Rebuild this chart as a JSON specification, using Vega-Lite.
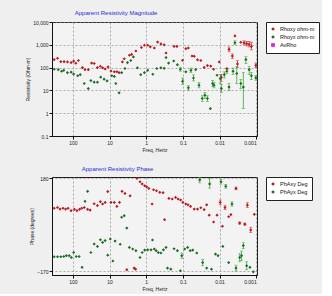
{
"$schema": "https://vega.github.io/schema/vega-lite/v6.json",
"background": "#efefef",
"padding": {"left": 25, "top": 9, "right": 2, "bottom": 2},
"spacing": 12,
"config": {
  "font": "Liberation Sans",
  "view": {"stroke": "#222", "strokeWidth": 1, "fill": "#f3f3f3"},
  "axis": {"labelFontSize": 5, "titleFontSize": 5, "titleFontWeight": "normal", "labelColor": "#222", "titleColor": "#222", "domainColor": "#111", "tickColor": "#111", "tickSize": 3, "gridColor": "#8a8a8a", "gridDash": [2, 2], "gridWidth": 0.7, "labelPadding": 1, "titlePadding": 2},
  "title": {"fontSize": 6, "fontWeight": "normal", "color": "#2b2bd8", "anchor": "start"},
  "legend": {"orient": "right", "offset": 9, "fillColor": "white", "strokeColor": "#222", "padding": 4, "labelFontSize": 5.5, "labelColor": "#111", "symbolSize": 14, "rowPadding": 1, "title": null, "labelLimit": 60}
},
"resolve": {"scale": {"color": "independent", "shape": "independent"}},
"vconcat": [
{
  "width": 205, "height": 114,
  "title": {"text": "Apparent Resistivity Magnitude", "dx": 49, "offset": 4},
  "data": {"values": [
    {"s":"Rhoxy ohm-m","f":324,"v":224},{"s":"Rhoxy ohm-m","f":263,"v":257},{"s":"Rhoxy ohm-m","f":214,"v":182},{"s":"Rhoxy ohm-m","f":174,"v":182},{"s":"Rhoxy ohm-m","f":141,"v":178},{"s":"Rhoxy ohm-m","f":112,"v":166},{"s":"Rhoxy ohm-m","f":95.5,"v":191},{"s":"Rhoxy ohm-m","f":83.2,"v":155},{"s":"Rhoxy ohm-m","f":70.8,"v":204},{"s":"Rhoxy ohm-m","f":55,"v":100},{"s":"Rhoxy ohm-m","f":46.8,"v":81},{"s":"Rhoxy ohm-m","f":38,"v":81},{"s":"Rhoxy ohm-m","f":30.9,"v":158},{"s":"Rhoxy ohm-m","f":26.3,"v":151},{"s":"Rhoxy ohm-m","f":21.4,"v":100},{"s":"Rhoxy ohm-m","f":17.8,"v":115},{"s":"Rhoxy ohm-m","f":15.5,"v":98},{"s":"Rhoxy ohm-m","f":13.2,"v":87},{"s":"Rhoxy ohm-m","f":11,"v":107},{"s":"Rhoxy ohm-m","f":9.12,"v":71},{"s":"Rhoxy ohm-m","f":7.41,"v":66},{"s":"Rhoxy ohm-m","f":6.31,"v":66},{"s":"Rhoxy ohm-m","f":5.5,"v":60},{"s":"Rhoxy ohm-m","f":4.47,"v":178},{"s":"Rhoxy ohm-m","f":3.98,"v":245},{"s":"Rhoxy ohm-m","f":2.88,"v":347},{"s":"Rhoxy ohm-m","f":2.51,"v":380},{"s":"Rhoxy ohm-m","f":1.91,"v":537},{"s":"Rhoxy ohm-m","f":1.35,"v":759},{"s":"Rhoxy ohm-m","f":1.12,"v":955},{"s":"Rhoxy ohm-m","f":0.912,"v":955},{"s":"Rhoxy ohm-m","f":0.776,"v":813},{"s":"Rhoxy ohm-m","f":0.603,"v":724},{"s":"Rhoxy ohm-m","f":0.49,"v":1318},{"s":"Rhoxy ohm-m","f":0.398,"v":1096},{"s":"Rhoxy ohm-m","f":0.324,"v":1000},{"s":"Rhoxy ohm-m","f":0.288,"v":437},{"s":"Rhoxy ohm-m","f":0.174,"v":851},{"s":"Rhoxy ohm-m","f":0.145,"v":851},{"s":"Rhoxy ohm-m","f":0.102,"v":209},{"s":"Rhoxy ohm-m","f":0.0832,"v":676},{"s":"Rhoxy ohm-m","f":0.0708,"v":724},{"s":"Rhoxy ohm-m","f":0.0562,"v":324},{"s":"Rhoxy ohm-m","f":0.049,"v":316},{"s":"Rhoxy ohm-m","f":0.0398,"v":219},{"s":"Rhoxy ohm-m","f":0.0324,"v":204},{"s":"Rhoxy ohm-m","f":0.0263,"v":102},{"s":"Rhoxy ohm-m","f":0.0214,"v":123},{"s":"Rhoxy ohm-m","f":0.0174,"v":117},{"s":"Rhoxy ohm-m","f":0.0145,"v":85},{"s":"Rhoxy ohm-m","f":0.0102,"v":178},{"s":"Rhoxy ohm-m","f":0.00891,"v":38,"lo":25,"hi":50},{"s":"Rhoxy ohm-m","f":0.00631,"v":91},{"s":"Rhoxy ohm-m","f":0.0055,"v":631,"lo":500,"hi":800},{"s":"Rhoxy ohm-m","f":0.00447,"v":324,"lo":250,"hi":400},{"s":"Rhoxy ohm-m","f":0.0038,"v":2455},{"s":"Rhoxy ohm-m","f":0.00324,"v":145,"lo":100,"hi":200},{"s":"Rhoxy ohm-m","f":0.00263,"v":1288},{"s":"Rhoxy ohm-m","f":0.00214,"v":1230,"lo":1000,"hi":1500},{"s":"Rhoxy ohm-m","f":0.00182,"v":1122,"lo":900,"hi":1400},{"s":"Rhoxy ohm-m","f":0.00155,"v":1047,"lo":800,"hi":1400},{"s":"Rhoxy ohm-m","f":0.00135,"v":851,"lo":600,"hi":1300},{"s":"Rhoxy ohm-m","f":0.00102,"v":126,"lo":100,"hi":160},
    {"s":"Rhoyx ohm-m","f":324,"v":85},{"s":"Rhoyx ohm-m","f":251,"v":81},{"s":"Rhoyx ohm-m","f":204,"v":69},{"s":"Rhoyx ohm-m","f":178,"v":76},{"s":"Rhoyx ohm-m","f":141,"v":60},{"s":"Rhoyx ohm-m","f":112,"v":63},{"s":"Rhoyx ohm-m","f":95.5,"v":52},{"s":"Rhoyx ohm-m","f":74.1,"v":44},{"s":"Rhoyx ohm-m","f":63.1,"v":49},{"s":"Rhoyx ohm-m","f":49,"v":20},{"s":"Rhoyx ohm-m","f":38,"v":12},{"s":"Rhoyx ohm-m","f":32.4,"v":27},{"s":"Rhoyx ohm-m","f":26.3,"v":23},{"s":"Rhoyx ohm-m","f":21.4,"v":23},{"s":"Rhoyx ohm-m","f":17.4,"v":38},{"s":"Rhoyx ohm-m","f":14.1,"v":31},{"s":"Rhoyx ohm-m","f":11.7,"v":26},{"s":"Rhoyx ohm-m","f":8.71,"v":44},{"s":"Rhoyx ohm-m","f":7.41,"v":41},{"s":"Rhoyx ohm-m","f":6.76,"v":20},{"s":"Rhoyx ohm-m","f":5.5,"v":7.8},{"s":"Rhoyx ohm-m","f":4.68,"v":60},{"s":"Rhoyx ohm-m","f":3.8,"v":91},{"s":"Rhoyx ohm-m","f":3.24,"v":166},{"s":"Rhoyx ohm-m","f":2.63,"v":204},{"s":"Rhoyx ohm-m","f":2.24,"v":295},{"s":"Rhoyx ohm-m","f":1.74,"v":98},{"s":"Rhoyx ohm-m","f":1.41,"v":49},{"s":"Rhoyx ohm-m","f":1.12,"v":60},{"s":"Rhoyx ohm-m","f":0.912,"v":76},{"s":"Rhoyx ohm-m","f":0.661,"v":51},{"s":"Rhoyx ohm-m","f":0.513,"v":91},{"s":"Rhoyx ohm-m","f":0.398,"v":98},{"s":"Rhoyx ohm-m","f":0.324,"v":93},{"s":"Rhoyx ohm-m","f":0.288,"v":275},{"s":"Rhoyx ohm-m","f":0.245,"v":158},{"s":"Rhoyx ohm-m","f":0.178,"v":195},{"s":"Rhoyx ohm-m","f":0.141,"v":135},{"s":"Rhoyx ohm-m","f":0.117,"v":85,"lo":70,"hi":100},{"s":"Rhoyx ohm-m","f":0.102,"v":25,"lo":18,"hi":35},{"s":"Rhoyx ohm-m","f":0.0832,"v":65},{"s":"Rhoyx ohm-m","f":0.0708,"v":13,"lo":10,"hi":16},{"s":"Rhoyx ohm-m","f":0.0603,"v":76,"lo":60,"hi":95},{"s":"Rhoyx ohm-m","f":0.0513,"v":35,"lo":26,"hi":48},{"s":"Rhoyx ohm-m","f":0.0447,"v":81},{"s":"Rhoyx ohm-m","f":0.0363,"v":17,"lo":13,"hi":22},{"s":"Rhoyx ohm-m","f":0.0295,"v":4.4,"lo":3.3,"hi":5.8},{"s":"Rhoyx ohm-m","f":0.0251,"v":6.2,"lo":4.5,"hi":8},{"s":"Rhoyx ohm-m","f":0.0214,"v":4.4,"lo":3.3,"hi":5.8},{"s":"Rhoyx ohm-m","f":0.0178,"v":1.6},{"s":"Rhoyx ohm-m","f":0.0155,"v":20,"lo":15,"hi":27},{"s":"Rhoyx ohm-m","f":0.0141,"v":17,"lo":13,"hi":22},{"s":"Rhoyx ohm-m","f":0.0117,"v":46},{"s":"Rhoyx ohm-m","f":0.00955,"v":33,"lo":20,"hi":50},{"s":"Rhoyx ohm-m","f":0.00891,"v":12,"lo":8,"hi":18},{"s":"Rhoyx ohm-m","f":0.00741,"v":49,"lo":35,"hi":65},{"s":"Rhoyx ohm-m","f":0.00631,"v":69,"lo":55,"hi":85},{"s":"Rhoyx ohm-m","f":0.0055,"v":14,"lo":10,"hi":20},{"s":"Rhoyx ohm-m","f":0.00427,"v":69,"lo":50,"hi":95},{"s":"Rhoyx ohm-m","f":0.0038,"v":1230,"lo":1000,"hi":1500},{"s":"Rhoyx ohm-m","f":0.00339,"v":55,"lo":20,"hi":110},{"s":"Rhoyx ohm-m","f":0.00263,"v":20,"lo":12,"hi":30},{"s":"Rhoyx ohm-m","f":0.00224,"v":14,"lo":1.6,"hi":60},{"s":"Rhoyx ohm-m","f":0.00191,"v":224,"lo":150,"hi":300},{"s":"Rhoyx ohm-m","f":0.00155,"v":81,"lo":50,"hi":110},{"s":"Rhoyx ohm-m","f":0.00135,"v":44,"lo":30,"hi":60},{"s":"Rhoyx ohm-m","f":0.00102,"v":36,"lo":28,"hi":45}
  ]},
  "layer": [
    {"transform": [{"filter": "isValid(datum.lo)"}],
     "mark": {"type": "errorbar", "ticks": {"size": 3}, "thickness": 0.8, "clip": true},
     "encoding": {
       "x": {"field": "f", "type": "quantitative", "title": "Freq, Hertz"},
       "y": {"field": "lo", "type": "quantitative", "title": "Resistivity (Ohm-m)"},
       "y2": {"field": "hi"},
       "color": {"condition": {"test": "datum.s == 'Rhoxy ohm-m'", "value": "#e03030"}, "value": "#2fae2f"}
     }},
    {"mark": {"type": "point", "filled": true, "size": 10, "opacity": 1, "clip": true},
     "encoding": {
       "x": {"field": "f", "type": "quantitative", "scale": {"type": "log", "domain": [0.00095, 372], "reverse": true, "nice": false}, "axis": {"title": "Freq, Hertz", "values": [100, 10, 1, 0.1, 0.01, 0.001], "format": "~g", "grid": true}},
       "y": {"field": "v", "type": "quantitative", "scale": {"type": "log", "domain": [0.1, 10000], "nice": false}, "axis": {"title": "Resistivity (Ohm-m)", "values": [10000, 1000, 100, 10, 1, 0.1], "format": ",~g", "grid": true}},
       "color": {"field": "s", "type": "nominal", "scale": {"domain": ["Rhoxy ohm-m", "Rhoyx ohm-m", "AvRho"], "range": ["#b8181e", "#1d6b25", "#e21ee2"]}, "legend": {"title": null}},
       "shape": {"field": "s", "type": "nominal", "scale": {"domain": ["Rhoxy ohm-m", "Rhoyx ohm-m", "AvRho"], "range": ["diamond", "diamond", "square"]}, "legend": {"title": null}}
     }}
  ]
},
{
  "width": 205, "height": 98,
  "title": {"text": "Apparent Resistivity Phase", "dx": 52, "offset": 4},
  "data": {"values": [
    {"s":"PhAxy Deg","f":324,"v":67},{"s":"PhAxy Deg","f":263,"v":70},{"s":"PhAxy Deg","f":224,"v":64},{"s":"PhAxy Deg","f":186,"v":67},{"s":"PhAxy Deg","f":158,"v":64},{"s":"PhAxy Deg","f":135,"v":67},{"s":"PhAxy Deg","f":112,"v":58},{"s":"PhAxy Deg","f":91.2,"v":63},{"s":"PhAxy Deg","f":77.6,"v":58},{"s":"PhAxy Deg","f":66.1,"v":63},{"s":"PhAxy Deg","f":57.5,"v":67},{"s":"PhAxy Deg","f":49,"v":70},{"s":"PhAxy Deg","f":39.8,"v":63},{"s":"PhAxy Deg","f":33.9,"v":60},{"s":"PhAxy Deg","f":26.3,"v":84},{"s":"PhAxy Deg","f":21.4,"v":77},{"s":"PhAxy Deg","f":17.8,"v":92},{"s":"PhAxy Deg","f":15.5,"v":83},{"s":"PhAxy Deg","f":13.2,"v":89},{"s":"PhAxy Deg","f":11.2,"v":130},{"s":"PhAxy Deg","f":9.12,"v":89},{"s":"PhAxy Deg","f":7.41,"v":89},{"s":"PhAxy Deg","f":6.31,"v":74},{"s":"PhAxy Deg","f":5.37,"v":89},{"s":"PhAxy Deg","f":4.57,"v":131},{"s":"PhAxy Deg","f":3.8,"v":123},{"s":"PhAxy Deg","f":3.39,"v":-165},{"s":"PhAxy Deg","f":2.75,"v":114},{"s":"PhAxy Deg","f":2.14,"v":-159},{"s":"PhAxy Deg","f":1.95,"v":-163},{"s":"PhAxy Deg","f":1.78,"v":180},{"s":"PhAxy Deg","f":1.48,"v":167},{"s":"PhAxy Deg","f":1.29,"v":159},{"s":"PhAxy Deg","f":1.1,"v":152},{"s":"PhAxy Deg","f":0.977,"v":148},{"s":"PhAxy Deg","f":0.851,"v":142},{"s":"PhAxy Deg","f":0.692,"v":83},{"s":"PhAxy Deg","f":0.631,"v":137},{"s":"PhAxy Deg","f":0.525,"v":133},{"s":"PhAxy Deg","f":0.427,"v":127},{"s":"PhAxy Deg","f":0.347,"v":126},{"s":"PhAxy Deg","f":0.316,"v":24},{"s":"PhAxy Deg","f":0.24,"v":104},{"s":"PhAxy Deg","f":0.195,"v":102},{"s":"PhAxy Deg","f":0.158,"v":108},{"s":"PhAxy Deg","f":0.135,"v":102},{"s":"PhAxy Deg","f":0.115,"v":98},{"s":"PhAxy Deg","f":0.1,"v":89},{"s":"PhAxy Deg","f":0.0832,"v":83},{"s":"PhAxy Deg","f":0.0724,"v":80},{"s":"PhAxy Deg","f":0.0617,"v":74},{"s":"PhAxy Deg","f":0.049,"v":64},{"s":"PhAxy Deg","f":0.0398,"v":64},{"s":"PhAxy Deg","f":0.0324,"v":69},{"s":"PhAxy Deg","f":0.0263,"v":62},{"s":"PhAxy Deg","f":0.0224,"v":80},{"s":"PhAxy Deg","f":0.0191,"v":41},{"s":"PhAxy Deg","f":0.0145,"v":15},{"s":"PhAxy Deg","f":0.0117,"v":41},{"s":"PhAxy Deg","f":0.00955,"v":89,"lo":80,"hi":98},{"s":"PhAxy Deg","f":0.00832,"v":-1},{"s":"PhAxy Deg","f":0.00708,"v":70,"lo":62,"hi":78},{"s":"PhAxy Deg","f":0.00562,"v":35},{"s":"PhAxy Deg","f":0.0049,"v":43},{"s":"PhAxy Deg","f":0.00355,"v":142,"lo":137,"hi":147},{"s":"PhAxy Deg","f":0.00282,"v":11,"lo":7,"hi":15},{"s":"PhAxy Deg","f":0.00204,"v":7,"lo":3,"hi":11},{"s":"PhAxy Deg","f":0.00174,"v":79,"lo":70,"hi":88},{"s":"PhAxy Deg","f":0.00141,"v":-15,"lo":-25,"hi":-5},{"s":"PhAxy Deg","f":0.00112,"v":44},
    {"s":"PhAyx Deg","f":324,"v":-116},{"s":"PhAyx Deg","f":263,"v":-116},{"s":"PhAyx Deg","f":214,"v":-116},{"s":"PhAyx Deg","f":178,"v":-115},{"s":"PhAyx Deg","f":151,"v":-112},{"s":"PhAyx Deg","f":126,"v":-112},{"s":"PhAyx Deg","f":110,"v":-119},{"s":"PhAyx Deg","f":95.5,"v":-100},{"s":"PhAyx Deg","f":81.3,"v":-115},{"s":"PhAyx Deg","f":67.6,"v":-115},{"s":"PhAyx Deg","f":56.2,"v":-156},{"s":"PhAyx Deg","f":46.8,"v":93},{"s":"PhAyx Deg","f":39.8,"v":131},{"s":"PhAyx Deg","f":32.4,"v":-100},{"s":"PhAyx Deg","f":26.3,"v":-68},{"s":"PhAyx Deg","f":21.4,"v":-77},{"s":"PhAyx Deg","f":17.8,"v":-52},{"s":"PhAyx Deg","f":15.5,"v":-62},{"s":"PhAyx Deg","f":13.2,"v":-55},{"s":"PhAyx Deg","f":11.2,"v":-110},{"s":"PhAyx Deg","f":9.55,"v":-49},{"s":"PhAyx Deg","f":8.13,"v":-132},{"s":"PhAyx Deg","f":7.08,"v":-57},{"s":"PhAyx Deg","f":5.13,"v":-69},{"s":"PhAyx Deg","f":4.68,"v":33},{"s":"PhAyx Deg","f":3.98,"v":39},{"s":"PhAyx Deg","f":3.39,"v":-8},{"s":"PhAyx Deg","f":2.88,"v":-81},{"s":"PhAyx Deg","f":2.34,"v":-87},{"s":"PhAyx Deg","f":1.91,"v":-93},{"s":"PhAyx Deg","f":1.48,"v":-119},{"s":"PhAyx Deg","f":1.29,"v":-100},{"s":"PhAyx Deg","f":1.1,"v":-91},{"s":"PhAyx Deg","f":0.912,"v":-90},{"s":"PhAyx Deg","f":0.741,"v":-90},{"s":"PhAyx Deg","f":0.676,"v":-53},{"s":"PhAyx Deg","f":0.603,"v":-87},{"s":"PhAyx Deg","f":0.537,"v":-93},{"s":"PhAyx Deg","f":0.468,"v":-100},{"s":"PhAyx Deg","f":0.398,"v":-102},{"s":"PhAyx Deg","f":0.339,"v":-90},{"s":"PhAyx Deg","f":0.288,"v":-81},{"s":"PhAyx Deg","f":0.263,"v":-159},{"s":"PhAyx Deg","f":0.214,"v":-163},{"s":"PhAyx Deg","f":0.174,"v":-86},{"s":"PhAyx Deg","f":0.141,"v":-93},{"s":"PhAyx Deg","f":0.117,"v":-169},{"s":"PhAyx Deg","f":0.107,"v":-112,"lo":-122,"hi":-102},{"s":"PhAyx Deg","f":0.0891,"v":-87},{"s":"PhAyx Deg","f":0.0741,"v":-81},{"s":"PhAyx Deg","f":0.0631,"v":-93},{"s":"PhAyx Deg","f":0.0537,"v":-91},{"s":"PhAyx Deg","f":0.0417,"v":-102},{"s":"PhAyx Deg","f":0.0347,"v":174,"lo":163,"hi":185},{"s":"PhAyx Deg","f":0.0288,"v":-138,"lo":-150,"hi":-126},{"s":"PhAyx Deg","f":0.0224,"v":-159},{"s":"PhAyx Deg","f":0.0186,"v":159,"lo":143,"hi":180},{"s":"PhAyx Deg","f":0.0166,"v":-163},{"s":"PhAyx Deg","f":0.0129,"v":-106},{"s":"PhAyx Deg","f":0.011,"v":-112},{"s":"PhAyx Deg","f":0.00912,"v":167,"lo":158,"hi":176},{"s":"PhAyx Deg","f":0.00813,"v":-77},{"s":"PhAyx Deg","f":0.00676,"v":150,"lo":143,"hi":157},{"s":"PhAyx Deg","f":0.00562,"v":-138},{"s":"PhAyx Deg","f":0.00457,"v":83,"lo":75,"hi":91},{"s":"PhAyx Deg","f":0.00355,"v":-159,"lo":-170,"hi":-148},{"s":"PhAyx Deg","f":0.00282,"v":-119,"lo":-135,"hi":-105},{"s":"PhAyx Deg","f":0.00251,"v":-112,"lo":-130,"hi":-95},{"s":"PhAyx Deg","f":0.00224,"v":-74,"lo":-85,"hi":-63},{"s":"PhAyx Deg","f":0.00182,"v":-150,"lo":-165,"hi":-135},{"s":"PhAyx Deg","f":0.00148,"v":-156},{"s":"PhAyx Deg","f":0.0012,"v":-173}
  ]},
  "layer": [
    {"transform": [{"filter": "isValid(datum.lo)"}],
     "mark": {"type": "errorbar", "ticks": {"size": 3}, "thickness": 0.8, "clip": true},
     "encoding": {
       "x": {"field": "f", "type": "quantitative", "title": "Freq, Hertz"},
       "y": {"field": "lo", "type": "quantitative", "title": "Phase (degrees)"},
       "y2": {"field": "hi"},
       "color": {"condition": {"test": "datum.s == 'PhAxy Deg'", "value": "#e03030"}, "value": "#2fae2f"}
     }},
    {"mark": {"type": "point", "filled": true, "size": 10, "opacity": 1, "shape": "diamond", "clip": true},
     "encoding": {
       "x": {"field": "f", "type": "quantitative", "scale": {"type": "log", "domain": [0.00095, 372], "reverse": true, "nice": false}, "axis": {"title": "Freq, Hertz", "values": [100, 10, 1, 0.1, 0.01, 0.001], "format": "~g", "grid": true}},
       "y": {"field": "v", "type": "quantitative", "scale": {"domain": [-185, 185], "nice": false}, "axis": {"title": "Phase (degrees)", "values": [180, 130, 80, 30, -20, -70, -120, -170], "grid": true}},
       "color": {"field": "s", "type": "nominal", "scale": {"domain": ["PhAxy Deg", "PhAyx Deg"], "range": ["#b8181e", "#1d6b25"]}, "legend": {"title": null}}
     }}
  ]
}
]
}
